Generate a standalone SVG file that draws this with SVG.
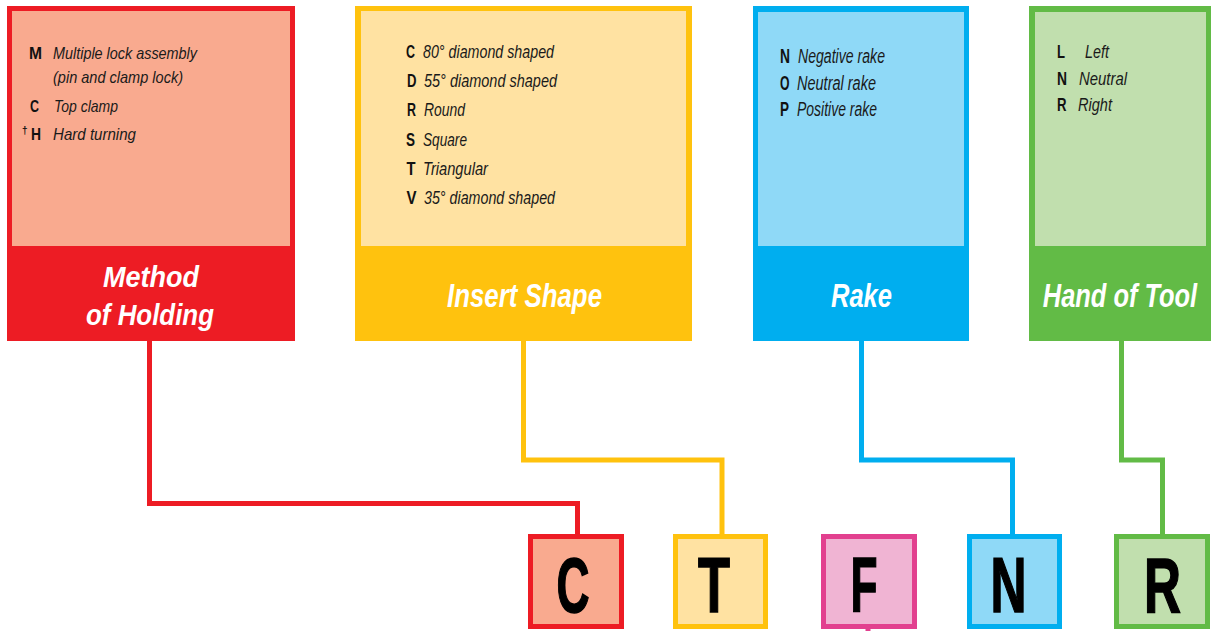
<svg xmlns="http://www.w3.org/2000/svg" width="1212" height="631" viewBox="0 0 1212 631">
<style>
  .lst { font-family: "Liberation Sans", Arial, sans-serif; font-style: italic; fill: #1a1a1a; }
  .key { font-family: "Liberation Sans", Arial, sans-serif; font-weight: bold; fill: #111; }
  .ttl { font-family: "Liberation Sans", Arial, sans-serif; font-weight: bold; font-style: italic; fill: #ffffff; text-anchor: middle; }
  .big { font-family: "Liberation Sans", Arial, sans-serif; font-weight: bold; fill: #000; stroke: #000; stroke-width: 1.5; font-size: 77px; text-anchor: middle; }
  .conn { fill: none; stroke-width: 5; stroke-linejoin: miter; stroke-linecap: butt; }
</style>
<rect width="1212" height="631" fill="#ffffff"/>

<g id="connectors">
  <path class="conn" stroke="#ED1C24" d="M149.5 341 V503.5 H577.5 V535"/>
  <path class="conn" stroke="#FFC20E" d="M523.5 341 V460 H722 V535"/>
  <path class="conn" stroke="#00AEEF" d="M861.5 341 V460 H1012.5 V535"/>
  <path class="conn" stroke="#62BB46" d="M1121.5 341 V460 H1162.5 V535"/>
  <path class="conn" stroke="#E2408F" d="M868 628 V631"/>
</g>

<g id="method-of-holding">
  <rect x="7" y="6" width="288" height="335" fill="#ED1C24"/>
  <rect x="12" y="11" width="278" height="235" fill="#F9AA8F"/>
  <g font-size="17">
    <text class="key" x="29" y="59" textLength="13" lengthAdjust="spacingAndGlyphs">M</text>
    <text class="lst" x="53" y="59" textLength="144" lengthAdjust="spacingAndGlyphs">Multiple lock assembly</text>
    <text class="lst" x="53" y="83" textLength="130" lengthAdjust="spacingAndGlyphs">(pin and clamp lock)</text>
    <text class="key" x="30" y="112" textLength="9" lengthAdjust="spacingAndGlyphs">C</text>
    <text class="lst" x="54" y="112" textLength="64" lengthAdjust="spacingAndGlyphs">Top clamp</text>
    <text class="key" x="22" y="134" font-size="10">†</text>
    <text class="key" x="31" y="140" textLength="10" lengthAdjust="spacingAndGlyphs">H</text>
    <text class="lst" x="53" y="140" textLength="83" lengthAdjust="spacingAndGlyphs">Hard turning</text>
  </g>
  <text class="ttl" x="151" y="287" font-size="29" textLength="96" lengthAdjust="spacingAndGlyphs">Method</text>
  <text class="ttl" x="150" y="325" font-size="29" textLength="128" lengthAdjust="spacingAndGlyphs">of Holding</text>
</g>

<g id="insert-shape">
  <rect x="355" y="6" width="337" height="335" fill="#FFC20E"/>
  <rect x="361" y="11" width="325" height="235" fill="#FFE2A2"/>
  <g font-size="18.5">
    <text class="key" x="406" y="58" textLength="9" lengthAdjust="spacingAndGlyphs">C</text>
    <text class="lst" x="423" y="58" textLength="131" lengthAdjust="spacingAndGlyphs">80° diamond shaped</text>
    <text class="key" x="407" y="87" textLength="9.5" lengthAdjust="spacingAndGlyphs">D</text>
    <text class="lst" x="424" y="87" textLength="133" lengthAdjust="spacingAndGlyphs">55° diamond shaped</text>
    <text class="key" x="407" y="116" textLength="9" lengthAdjust="spacingAndGlyphs">R</text>
    <text class="lst" x="424" y="116" textLength="41" lengthAdjust="spacingAndGlyphs">Round</text>
    <text class="key" x="406" y="145.5" textLength="9" lengthAdjust="spacingAndGlyphs">S</text>
    <text class="lst" x="423" y="145.5" textLength="44" lengthAdjust="spacingAndGlyphs">Square</text>
    <text class="key" x="406.5" y="175" textLength="9" lengthAdjust="spacingAndGlyphs">T</text>
    <text class="lst" x="423" y="175" textLength="65" lengthAdjust="spacingAndGlyphs">Triangular</text>
    <text class="key" x="406.5" y="204" textLength="10" lengthAdjust="spacingAndGlyphs">V</text>
    <text class="lst" x="424" y="204" textLength="131" lengthAdjust="spacingAndGlyphs">35° diamond shaped</text>
  </g>
  <text class="ttl" x="524.5" y="307" font-size="33" textLength="155" lengthAdjust="spacingAndGlyphs">Insert Shape</text>
</g>

<g id="rake">
  <rect x="753" y="6" width="216" height="335" fill="#00AEEF"/>
  <rect x="758" y="12" width="206" height="234" fill="#8FD9F7"/>
  <g font-size="20">
    <text class="key" x="780" y="63" textLength="10" lengthAdjust="spacingAndGlyphs">N</text>
    <text class="lst" x="798" y="63" textLength="87" lengthAdjust="spacingAndGlyphs">Negative rake</text>
    <text class="key" x="780" y="90" textLength="9.5" lengthAdjust="spacingAndGlyphs">O</text>
    <text class="lst" x="797" y="90" textLength="79" lengthAdjust="spacingAndGlyphs">Neutral rake</text>
    <text class="key" x="780" y="116" textLength="9" lengthAdjust="spacingAndGlyphs">P</text>
    <text class="lst" x="797" y="116" textLength="80" lengthAdjust="spacingAndGlyphs">Positive rake</text>
  </g>
  <text class="ttl" x="861.5" y="307" font-size="33" textLength="61" lengthAdjust="spacingAndGlyphs">Rake</text>
</g>

<g id="hand-of-tool">
  <rect x="1029" y="6" width="182" height="335" fill="#62BB46"/>
  <rect x="1035" y="12" width="171" height="234" fill="#C1DFAE"/>
  <g font-size="19">
    <text class="key" x="1057" y="58" textLength="8" lengthAdjust="spacingAndGlyphs">L</text>
    <text class="lst" x="1085" y="58" textLength="24" lengthAdjust="spacingAndGlyphs">Left</text>
    <text class="key" x="1057" y="85" textLength="10" lengthAdjust="spacingAndGlyphs">N</text>
    <text class="lst" x="1079" y="85" textLength="48" lengthAdjust="spacingAndGlyphs">Neutral</text>
    <text class="key" x="1057" y="111" textLength="9.5" lengthAdjust="spacingAndGlyphs">R</text>
    <text class="lst" x="1078" y="111" textLength="34" lengthAdjust="spacingAndGlyphs">Right</text>
  </g>
  <text class="ttl" transform="translate(1120 307) scale(0.77 1)" x="0" y="0" font-size="33">Hand of Tool</text>
</g>

<g id="code-C">
  <rect x="530.5" y="536.5" width="91" height="90" fill="#F9AA8F" stroke="#ED1C24" stroke-width="5"/>
  <text class="big" x="573" y="612" textLength="33" lengthAdjust="spacingAndGlyphs">C</text>
</g>
<g id="code-T">
  <rect x="675.5" y="536.5" width="90" height="90" fill="#FFE2A2" stroke="#FFC20E" stroke-width="5"/>
  <text class="big" x="714" y="612" textLength="32" lengthAdjust="spacingAndGlyphs">T</text>
</g>
<g id="code-F">
  <rect x="823.5" y="536.5" width="91" height="90" fill="#F0B4D3" stroke="#E2408F" stroke-width="5"/>
  <text class="big" x="864" y="612" textLength="27" lengthAdjust="spacingAndGlyphs">F</text>
</g>
<g id="code-N">
  <rect x="969.5" y="536.5" width="90" height="90" fill="#8FD9F7" stroke="#00AEEF" stroke-width="5"/>
  <text class="big" x="1008.5" y="612" textLength="36" lengthAdjust="spacingAndGlyphs">N</text>
</g>
<g id="code-R">
  <rect x="1116.5" y="536.5" width="91" height="90" fill="#C1DFAE" stroke="#62BB46" stroke-width="5"/>
  <text class="big" x="1162.5" y="612" textLength="37" lengthAdjust="spacingAndGlyphs">R</text>
</g>
</svg>
